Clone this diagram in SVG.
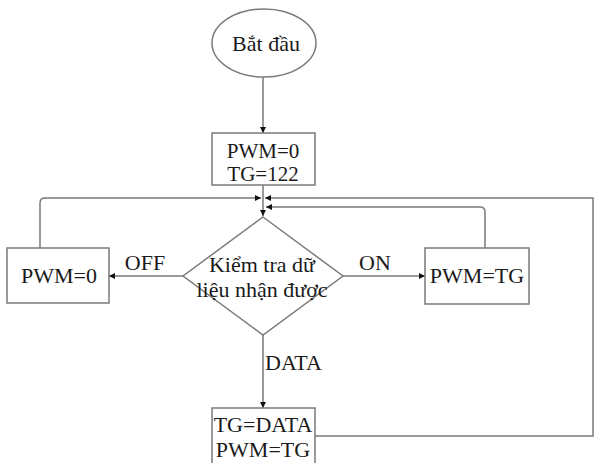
<svg xmlns="http://www.w3.org/2000/svg" width="595" height="463" viewBox="0 0 595 463">
<style>
.n{fill:#fff;stroke:#7a7a7a;stroke-width:1.5}
.c{fill:none;stroke:#7a7a7a;stroke-width:1.5}
text{font-family:"Liberation Serif","Times New Roman",serif;font-size:22px;fill:#1a1a1a}
.m{text-anchor:middle}
.s{font-size:21px}
</style>
<defs>
<marker id="a" viewBox="0 0 10 10" refX="10" refY="5" markerWidth="6" markerHeight="6" markerUnits="userSpaceOnUse" orient="auto">
<path d="M0,0 L10,5 L0,10 z" fill="#111"/>
</marker>
</defs>
<rect width="595" height="463" fill="#fff"/>
<g id="connectors">
<path class="c" d="M263,77 V133" marker-end="url(#a)"/>
<path class="c" d="M263,185 V216" marker-end="url(#a)"/>
<path class="c" d="M40,248 V203 Q40,198 45,198 H261" marker-end="url(#a)"/>
<path class="c" d="M315,436 H593 V198 H265" marker-end="url(#a)"/>
<path class="c" d="M485,248 V212 Q485,207 480,207 H266" marker-end="url(#a)"/>
<path class="c" d="M183,276 H109" marker-end="url(#a)"/>
<path class="c" d="M343,276 H425" marker-end="url(#a)"/>
<path class="c" d="M263,335 V408" marker-end="url(#a)"/>
</g>
<g id="start">
<ellipse class="n" cx="264" cy="43" rx="52" ry="34"/>
<text class="m" x="266" y="51">Bắt đầu</text>
</g>
<g id="init">
<rect class="n" x="212" y="133" width="103" height="52"/>
<text class="m s" x="263" y="158">PWM=0</text>
<text class="m s" x="263" y="181">TG=122</text>
</g>
<g id="check">
<polygon class="n" points="263,217 343,276 263,335 183,276"/>
<text class="m" x="262" y="272">Kiểm tra dữ</text>
<text class="m" x="262" y="297">liệu nhận được</text>
</g>
<g id="off">
<rect class="n" x="7" y="248" width="102" height="55"/>
<text class="m" x="59" y="283">PWM=0</text>
</g>
<g id="on">
<rect class="n" x="425" y="248" width="104" height="56"/>
<text class="m" x="477" y="283">PWM=TG</text>
</g>
<g id="data">
<rect class="n" x="212" y="408" width="103" height="60"/>
<text class="m" x="263" y="432">TG=DATA</text>
<text class="m" x="263" y="457">PWM=TG</text>
</g>
<g id="labels">
<text class="m" x="145" y="270">OFF</text>
<text class="m" x="375" y="270">ON</text>
<text x="265" y="370">DATA</text>
</g>
</svg>
